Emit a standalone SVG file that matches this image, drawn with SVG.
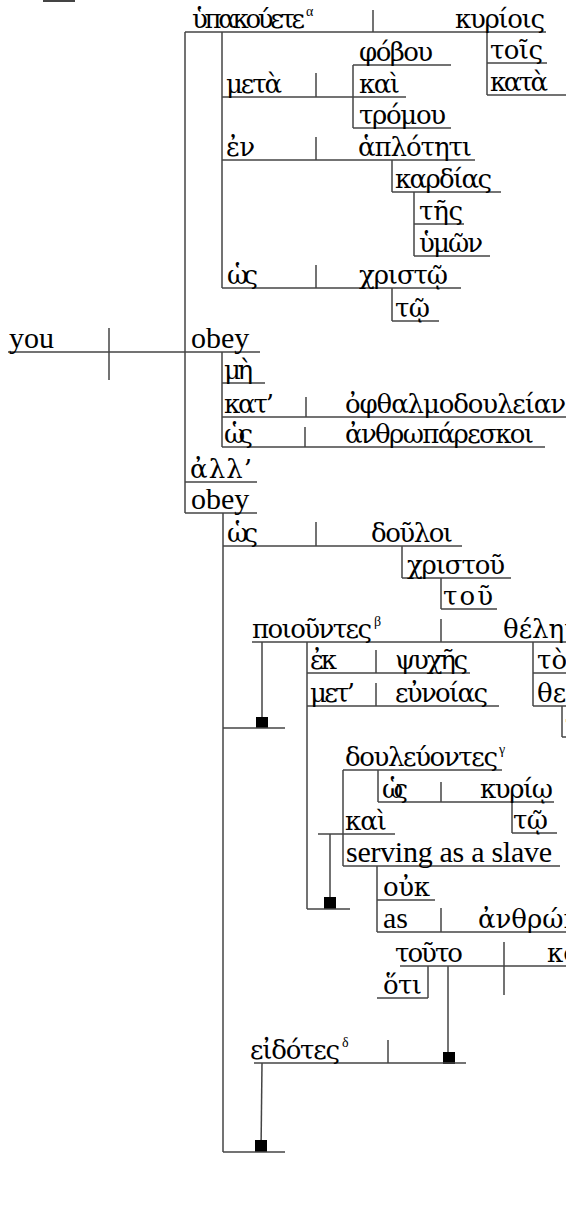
<svg xmlns="http://www.w3.org/2000/svg" width="566" height="1229" viewBox="0 0 566 1229">
<style>
text{font-family:"DejaVu Serif","Liberation Serif",serif;font-size:26px;fill:#000}
text.en{font-family:"Liberation Serif","DejaVu Serif",serif;font-size:30px}
.g{lengthAdjust:spacingAndGlyphs}
.sup{font-family:"Liberation Serif","DejaVu Serif",serif;font-size:14px}
#connectors line{stroke:#444;stroke-width:1.5}
#connectors rect{fill:#000}
</style>
<rect x="43" y="0" width="32" height="2" fill="#444"/>
<g id="connectors">
<line x1="185" y1="32" x2="546" y2="32"/>
<line x1="373" y1="10" x2="373" y2="32"/>
<line x1="185" y1="32" x2="185" y2="513"/>
<line x1="222" y1="32" x2="222" y2="288"/>
<line x1="222" y1="97" x2="406" y2="97"/>
<line x1="316" y1="73" x2="316" y2="97"/>
<line x1="353" y1="65" x2="353" y2="128"/>
<line x1="353" y1="65" x2="451" y2="65"/>
<line x1="353" y1="128" x2="451" y2="128"/>
<line x1="487" y1="32" x2="487" y2="95"/>
<line x1="487" y1="63" x2="547" y2="63"/>
<line x1="487" y1="95" x2="566" y2="95"/>
<line x1="222" y1="160" x2="475" y2="160"/>
<line x1="316" y1="137" x2="316" y2="160"/>
<line x1="392" y1="160" x2="392" y2="192"/>
<line x1="392" y1="192" x2="501" y2="192"/>
<line x1="414" y1="192" x2="414" y2="256"/>
<line x1="414" y1="224" x2="464" y2="224"/>
<line x1="414" y1="256" x2="490" y2="256"/>
<line x1="222" y1="288" x2="461" y2="288"/>
<line x1="316" y1="265" x2="316" y2="288"/>
<line x1="392" y1="288" x2="392" y2="321"/>
<line x1="392" y1="321" x2="439" y2="321"/>
<line x1="8" y1="352" x2="260" y2="352"/>
<line x1="109" y1="328" x2="109" y2="380"/>
<line x1="222" y1="352" x2="222" y2="447"/>
<line x1="222" y1="383" x2="265" y2="383"/>
<line x1="222" y1="417" x2="566" y2="417"/>
<line x1="306" y1="397" x2="306" y2="417"/>
<line x1="222" y1="447" x2="545" y2="447"/>
<line x1="305" y1="427" x2="305" y2="447"/>
<line x1="185" y1="482" x2="257" y2="482"/>
<line x1="185" y1="513" x2="257" y2="513"/>
<line x1="223" y1="513" x2="223" y2="1152"/>
<line x1="223" y1="546" x2="462" y2="546"/>
<line x1="316" y1="522" x2="316" y2="546"/>
<line x1="402" y1="546" x2="402" y2="578"/>
<line x1="402" y1="578" x2="511" y2="578"/>
<line x1="441" y1="578" x2="441" y2="609"/>
<line x1="441" y1="609" x2="497" y2="609"/>
<line x1="252" y1="642" x2="566" y2="642"/>
<line x1="441" y1="619" x2="441" y2="642"/>
<line x1="262" y1="642" x2="262" y2="728"/>
<rect x="256" y="717" width="12" height="11"/>
<line x1="223" y1="728" x2="285" y2="728"/>
<line x1="307" y1="642" x2="307" y2="909"/>
<line x1="307" y1="673" x2="470" y2="673"/>
<line x1="376" y1="650" x2="376" y2="673"/>
<line x1="307" y1="706" x2="499" y2="706"/>
<line x1="376" y1="683" x2="376" y2="706"/>
<line x1="533" y1="642" x2="533" y2="706"/>
<line x1="533" y1="673" x2="566" y2="673"/>
<line x1="533" y1="706" x2="566" y2="706"/>
<line x1="562" y1="706" x2="562" y2="737"/>
<line x1="562" y1="737" x2="566" y2="737"/>
<line x1="343" y1="770" x2="502" y2="770"/>
<line x1="343" y1="770" x2="343" y2="866"/>
<line x1="378" y1="770" x2="378" y2="802"/>
<line x1="378" y1="802" x2="554" y2="802"/>
<line x1="441" y1="782" x2="441" y2="802"/>
<line x1="512" y1="802" x2="512" y2="833"/>
<line x1="512" y1="833" x2="557" y2="833"/>
<line x1="318" y1="834" x2="395" y2="834"/>
<line x1="330" y1="834" x2="330" y2="909"/>
<rect x="324" y="897" width="12" height="12"/>
<line x1="307" y1="909" x2="350" y2="909"/>
<line x1="343" y1="866" x2="560" y2="866"/>
<line x1="377" y1="866" x2="377" y2="932"/>
<line x1="377" y1="900" x2="435" y2="900"/>
<line x1="377" y1="932" x2="566" y2="932"/>
<line x1="441" y1="908" x2="441" y2="932"/>
<line x1="400" y1="966" x2="566" y2="966"/>
<line x1="504" y1="942" x2="504" y2="995"/>
<line x1="428" y1="966" x2="428" y2="998"/>
<line x1="377" y1="998" x2="428" y2="998"/>
<line x1="448" y1="966" x2="448" y2="1063"/>
<rect x="443" y="1052" width="12" height="12"/>
<line x1="254" y1="1063" x2="466" y2="1063"/>
<line x1="388" y1="1040" x2="388" y2="1063"/>
<line x1="262" y1="1063" x2="261" y2="1152"/>
<rect x="255" y="1140" width="12" height="12"/>
<line x1="223" y1="1152" x2="285" y2="1152"/>
</g>
<g id="n-hypakouete"><text x="192" y="28" textLength="113" class="g">ὑπακούετε</text><text x="306" y="16" class="sup">α</text></g>
<g id="n-kyriois"><text x="455" y="28" textLength="90" class="g">κυρίοις</text></g>
<g id="n-phobou"><text x="359" y="61" textLength="74" class="g">φόβου</text></g>
<g id="n-kai1"><text x="359" y="93" textLength="41" class="g">καὶ</text></g>
<g id="n-tromou"><text x="359" y="124" textLength="87" class="g">τρόμου</text></g>
<g id="n-meta"><text x="226" y="93" textLength="56" class="g">μετὰ</text></g>
<g id="n-tois"><text x="490" y="59" textLength="53" class="g">τοῖς</text></g>
<g id="n-kata"><text x="490" y="91" textLength="58" class="g">κατὰ</text></g>
<g id="n-en"><text x="226" y="156" textLength="29" class="g">ἐν</text></g>
<g id="n-haplotiti"><text x="358" y="156" textLength="114" class="g">ἁπλότητι</text></g>
<g id="n-kardias"><text x="395" y="188" textLength="97" class="g">καρδίας</text></g>
<g id="n-tes"><text x="419" y="220" textLength="44" class="g">τῆς</text></g>
<g id="n-hymon"><text x="419" y="252" textLength="64" class="g">ὑμῶν</text></g>
<g id="n-hos1"><text x="227" y="284" textLength="31" class="g">ὡς</text></g>
<g id="n-christo"><text x="359" y="284" textLength="89" class="g">χριστῷ</text></g>
<g id="n-to1"><text x="395" y="317" textLength="35" class="g">τῷ</text></g>
<g id="n-you"><text x="9" y="348" class="en">you</text></g>
<g id="n-obey1"><text x="191" y="348" class="en">obey</text></g>
<g id="n-me"><text x="224" y="379" textLength="29" class="g">μὴ</text></g>
<g id="n-kat"><text x="224" y="413" textLength="50" class="g">κατ’</text></g>
<g id="n-ophthalmo"><text x="345" y="413" textLength="221" class="g">ὀφθαλμοδουλείαν</text></g>
<g id="n-hos2"><text x="224" y="443" textLength="29" class="g">ὡς</text></g>
<g id="n-anthropareskoi"><text x="345" y="443" textLength="189" class="g">ἀνθρωπάρεσκοι</text></g>
<g id="n-all"><text x="190" y="478" textLength="62" class="g">ἀλλ’</text></g>
<g id="n-obey2"><text x="191" y="509" class="en">obey</text></g>
<g id="n-hos3"><text x="227" y="542" textLength="31" class="g">ὡς</text></g>
<g id="n-douloi"><text x="371" y="542" textLength="82" class="g">δοῦλοι</text></g>
<g id="n-christou"><text x="407" y="574" textLength="98" class="g">χριστοῦ</text></g>
<g id="n-tou1"><text x="443" y="605" textLength="50" class="g">τοῦ</text></g>
<g id="n-poiountes"><text x="252" y="638" textLength="120" class="g">ποιοῦντες</text><text x="374" y="626" class="sup">β</text></g>
<g id="n-thelema"><text x="503" y="638">θέλημα</text></g>
<g id="n-ek"><text x="310" y="669" textLength="27" class="g">ἐκ</text></g>
<g id="n-psyches"><text x="395" y="669" textLength="73" class="g">ψυχῆς</text></g>
<g id="n-met"><text x="310" y="702" textLength="45" class="g">μετ’</text></g>
<g id="n-eunoias"><text x="395" y="702" textLength="93" class="g">εὐνοίας</text></g>
<g id="n-to2"><text x="537" y="669">τὸ</text></g>
<g id="n-theou"><text x="537" y="702">θεοῦ</text></g>
<g id="n-tou2"><text x="565" y="733">τοῦ</text></g>
<g id="n-douleuontes"><text x="345" y="766" textLength="153" class="g">δουλεύοντες</text><text x="499" y="754" class="sup">γ</text></g>
<g id="n-hos4"><text x="382" y="798" textLength="26" class="g">ὡς</text></g>
<g id="n-kyrio"><text x="480" y="798" textLength="73" class="g">κυρίῳ</text></g>
<g id="n-to3"><text x="513" y="829" textLength="35" class="g">τῷ</text></g>
<g id="n-kai2"><text x="345" y="830" textLength="42" class="g">καὶ</text></g>
<g id="n-serving"><text x="346" y="862" textLength="206" class="g en">serving as a slave</text></g>
<g id="n-ouk"><text x="383" y="896" textLength="47" class="g">οὐκ</text></g>
<g id="n-as"><text x="383" y="928" class="en">as</text></g>
<g id="n-anthropois"><text x="478" y="928">ἀνθρώποις</text></g>
<g id="n-touto"><text x="395" y="962" textLength="68" class="g">τοῦτο</text></g>
<g id="n-komisetai"><text x="547" y="962">κομίσεται</text></g>
<g id="n-hoti"><text x="383" y="994" textLength="39" class="g">ὅτι</text></g>
<g id="n-eidotes"><text x="250" y="1059" textLength="90" class="g">εἰδότες</text><text x="342" y="1047" class="sup">δ</text></g>
</svg>
